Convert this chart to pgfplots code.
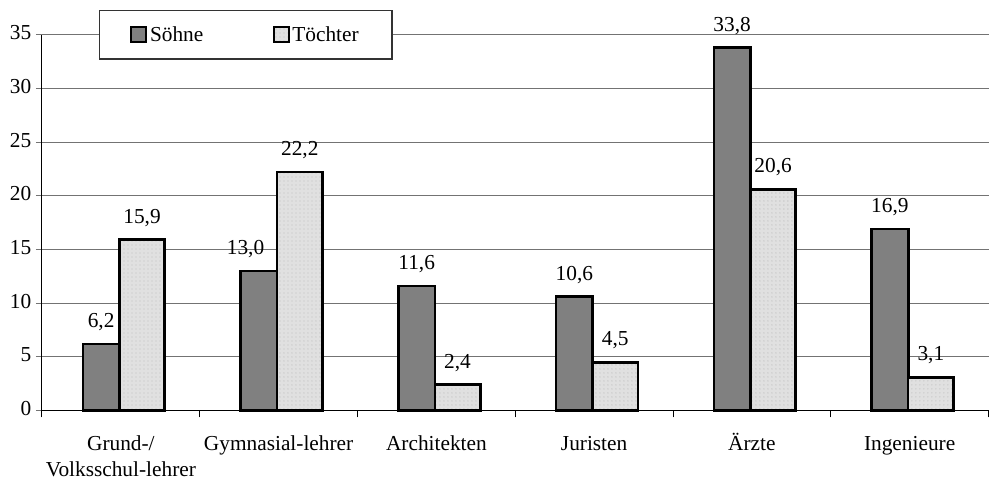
\documentclass[border=0pt]{standalone}
\usepackage{pgfplots}
\usepackage{pgfplotstable}
\pgfplotsset{compat=1.18}
\usepackage{fontspec}
\setmainfont{Liberation Serif}
\usetikzlibrary{patterns}
\pgfplotstableread{
x y dx
0 6.2 0
1 13.0 -10
2 11.6 0
3 10.6 0
4 33.8 0
5 16.9 0
}\soehne
\pgfplotstableread{
x y dx
0 15.9 0
1 22.2 0
2 2.4 0
3 4.5 0
4 20.6 0
5 3.1 0
}\toechter
\begin{document}
\begin{tikzpicture}
\begin{axis}[
  scale only axis,
  width=710pt, height=282pt,
  xmin=-0.5, xmax=5.5, ymin=0, ymax=35,
  axis x line*=bottom, axis y line*=left,
  ytick={0,5,...,35},
  ymajorgrids, grid style={black!55, line width=0.75pt},
  xtick={0,...,5},
  xticklabels={{Grund-/\\Volksschul-lehrer},Gymnasial-lehrer,Architekten,Juristen,Ärzte,Ingenieure},
  xticklabel style={align=center, font=\fontsize{16}{19.5}\selectfont, anchor=north, yshift=-8pt},
  typeset ticklabels with strut,
  yticklabel style={font=\fontsize{16}{19}\selectfont},
  /pgf/number format/assume math mode=true,
  major x tick style={draw=none},
  minor xtick={-0.5,0.5,...,5.5},
  minor tick length=5pt, major tick length=4.5pt,
  tick align=outside,
  axis line style={black, line width=0.75pt},
  tick style={black, line width=0.75pt},
  y tick style={black!55},
  nodes near coords,
  visualization depends on={\thisrow{dx}\as\mydx},
  nodes near coords style={font=\fontsize{16}{19}\selectfont, yshift=5.5pt, /pgf/number format/use comma, /pgf/number format/fixed, /pgf/number format/fixed zerofill, /pgf/number format/precision=1, /pgf/number format/assume math mode=true},
  legend style={at={(0.0602,1)}, anchor=west, draw=black!80, line width=1pt, fill=white,
    font=\fontsize{16}{19}\selectfont, inner xsep=23pt, inner ysep=10pt,
    /tikz/every even column/.append style={column sep=50pt}},
  legend columns=2,
  legend image code/.code={\draw[#1, line width=1.6pt] (0pt,-5.6pt) rectangle (11.2pt,5.6pt);},
  clip=false,
]
\addplot[ybar, bar width=27.4pt, bar shift=-14.8pt, fill=black!50, draw=black, line width=2pt,
  every node near coord/.append style={xshift=-14.8pt+\mydx pt}] table[x=x, y=y] {\soehne};
\addplot[ybar, bar width=34.1pt, bar shift=15.9pt, fill=black!12, draw=black, line width=2pt, postaction={pattern=dots, pattern color=black!25},
  every node near coord/.append style={xshift=15.9pt+\mydx pt}] table[x=x, y=y] {\toechter};
\legend{Söhne,Töchter}
\path (rel axis cs:0,1) -- ++(0pt,26pt);
\path (rel axis cs:0,0) -- ++(-31.5pt,0pt);
\end{axis}
\end{tikzpicture}
\end{document}
